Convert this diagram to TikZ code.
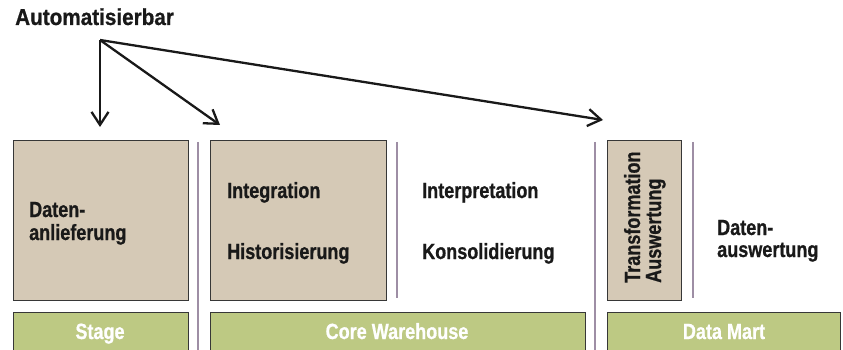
\documentclass[tikz,border=0pt]{standalone}
\usepackage{fontspec}
\setmainfont{Liberation Sans}
\newfontfamily\condfont[FakeStretch=0.82,BoldFeatures={FakeBold=0.8}]{Liberation Sans}
\newfontfamily\titlefont[FakeStretch=0.9,BoldFeatures={FakeBold=0.8}]{Liberation Sans}
\usetikzlibrary{arrows.meta}
\definecolor{tanfill}{RGB}{213,201,182}
\definecolor{greenfill}{RGB}{189,201,131}
\definecolor{sepline}{RGB}{158,142,165}
\definecolor{boxborder}{RGB}{55,55,55}
\tikzset{
  tanbox/.style={draw=boxborder, line width=0.9pt, fill=tanfill, anchor=north west, inner sep=0pt},
  greenbar/.style={draw=boxborder, line width=0.9pt, fill=greenfill, anchor=north west, inner sep=0pt, minimum height=40pt},
  txt/.style={font=\condfont\bfseries\fontsize{22}{25}\selectfont, text=black!90, inner sep=0pt, align=left},
  bartxt/.style={font=\condfont\bfseries\fontsize{22}{25}\selectfont, text=white, inner sep=0pt},
  titletxt/.style={font=\titlefont\bfseries\fontsize{23}{26}\selectfont, text=black!90, inner sep=0pt},
  sep/.style={draw=sepline, line width=2.2pt},
  arr/.style={draw=black!90, line width=2.3pt, -{Straight Barb[length=13pt,width=17pt,line width=2.3pt]}}
}
\begin{document}
\begin{tikzpicture}[x=1pt,y=-1pt]
\useasboundingbox (0,0) rectangle (843,350);
% title
\node[titletxt, anchor=base west] (title) at (15,25) {Automatisierbar};
% boxes
\node[tanbox, minimum width=175pt, minimum height=160pt] (stagebox) at (13,140) {};
\node[tanbox, minimum width=176pt, minimum height=160pt] (corebox) at (210,140) {};
\node[tanbox, minimum width=74pt, minimum height=160pt] (dmbox) at (607,140) {};
% green bars
\node[greenbar, minimum width=175pt] (stagebar) at (13,312) {};
\node[greenbar, minimum width=375pt] (corebar) at (210,312) {};
\node[greenbar, minimum width=233pt] (dmbar) at (607,312) {};
% separators
\coordinate (s1t) at (198,142); \coordinate (s1b) at (198,351);
\coordinate (s2t) at (397,142); \coordinate (s2b) at (397,298);
\coordinate (s3t) at (595,142); \coordinate (s3b) at (595,351);
\coordinate (s4t) at (693,142); \coordinate (s4b) at (693,298);
\draw[sep] (s1t) -- (s1b);
\draw[sep] (s2t) -- (s2b);
\draw[sep] (s3t) -- (s3b);
\draw[sep] (s4t) -- (s4b);
% texts
\node[txt, anchor=base west] (daten1) at (29,217) {Daten-};
\node[txt, anchor=base west] (anlief) at (29,240) {anlieferung};
\node[txt, anchor=base west] (integ) at (227,198) {Integration};
\node[txt, anchor=base west] (hist) at (227,259) {Historisierung};
\node[txt, anchor=base west] (interp) at (422,198) {Interpretation};
\node[txt, anchor=base west] (kons) at (422,259) {Konsolidierung};
\node[txt, anchor=base west, rotate=90] (transf) at (640,283) {Transformation};
\node[txt, anchor=base west, rotate=90] (ausw) at (661,283) {Auswertung};
\node[txt, anchor=base west] (daten2) at (717,235) {Daten-};
\node[txt, anchor=base west] (auswert) at (717,257) {auswertung};
% bar labels
\node[bartxt, anchor=base] (stagelbl) at (100,339) {Stage};
\node[bartxt, anchor=base] (corelbl) at (397,339) {Core Warehouse};
\node[bartxt, anchor=base] (dmlbl) at (724,339) {Data Mart};
% arrows
\coordinate (src) at (100,40);
\coordinate (t1) at (100,127);
\coordinate (t2) at (220,125);
\coordinate (t3) at (603,120);
\draw[arr] (src) -- (t1);
\draw[arr] (src) -- (t2);
\draw[arr] (src) -- (t3);
\end{tikzpicture}
\end{document}
